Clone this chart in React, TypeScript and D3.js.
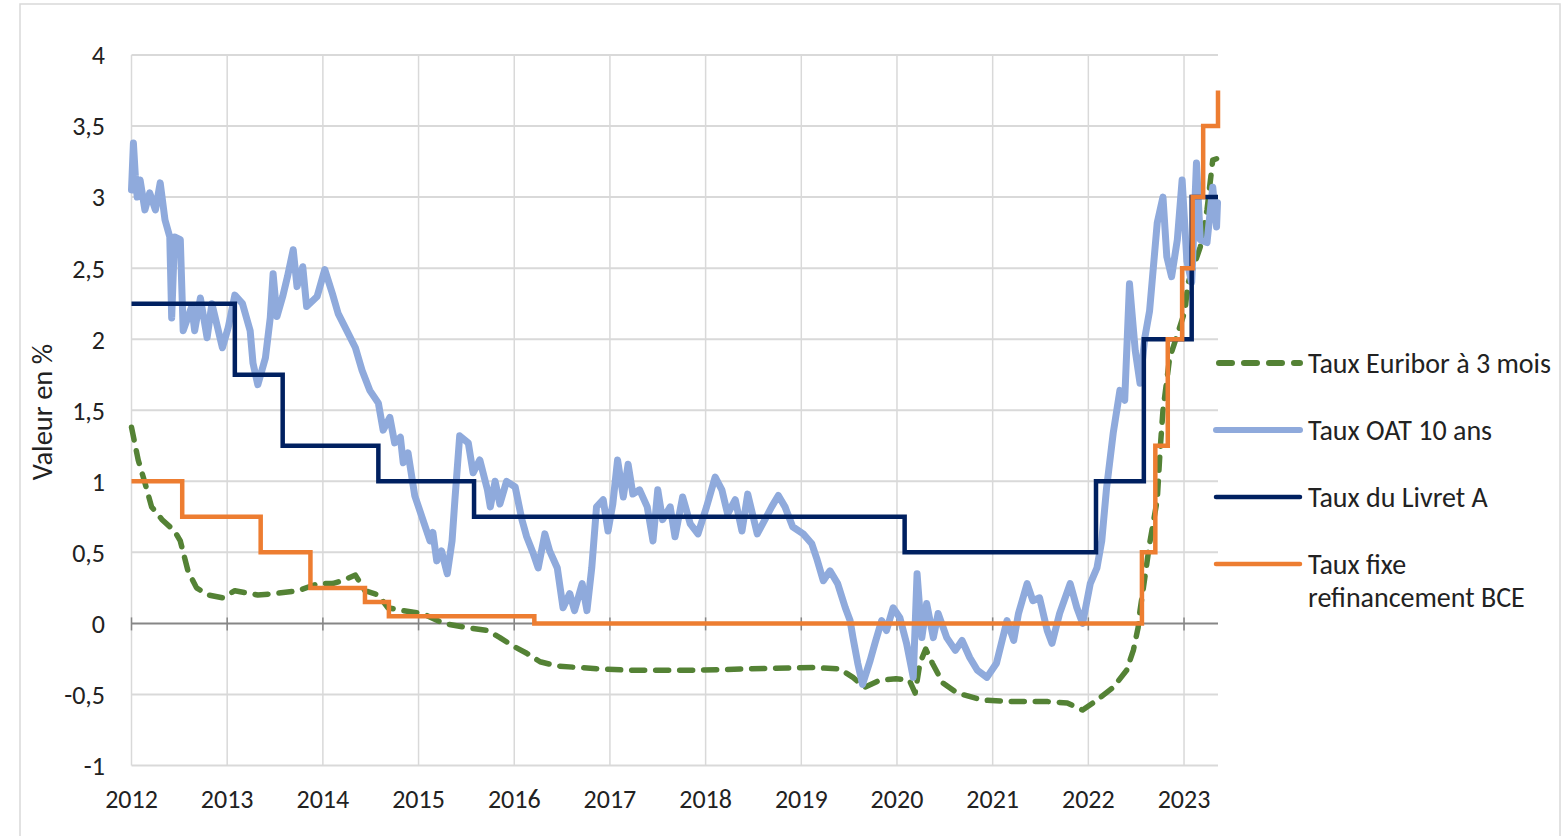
import React from "react";
import * as d3 from "d3";

const W = 1565;
const H = 836;

const yTicks = [-1, -0.5, 0, 0.5, 1, 1.5, 2, 2.5, 3, 3.5, 4];
const xYears = [2012, 2013, 2014, 2015, 2016, 2017, 2018, 2019, 2020, 2021, 2022, 2023];

const seriesNames = [
  "Taux Euribor à 3 mois",
  "Taux OAT 10 ans",
  "Taux du Livret A",
  "Taux fixe refinancement BCE",
];

const euribor: [number, number][] = [
  [2012.0, 1.38], [2012.07, 1.15], [2012.14, 0.99], [2012.21, 0.82], [2012.32, 0.73],
  [2012.45, 0.65], [2012.51, 0.58], [2012.59, 0.37], [2012.68, 0.25], [2012.8, 0.2],
  [2012.95, 0.18], [2013.08, 0.23], [2013.32, 0.2], [2013.5, 0.21], [2013.74, 0.23],
  [2013.95, 0.28], [2014.1, 0.28], [2014.2, 0.3], [2014.34, 0.34], [2014.44, 0.23],
  [2014.58, 0.2], [2014.68, 0.11], [2014.83, 0.09], [2015.04, 0.07], [2015.26, 0.0],
  [2015.51, -0.03], [2015.72, -0.05], [2015.85, -0.1], [2015.99, -0.16], [2016.13, -0.21],
  [2016.27, -0.27], [2016.45, -0.3], [2016.66, -0.31], [2016.9, -0.32], [2017.24, -0.33],
  [2017.6, -0.33], [2017.87, -0.33], [2018.43, -0.32], [2019.12, -0.31], [2019.4, -0.32],
  [2019.54, -0.38], [2019.66, -0.45], [2019.82, -0.4], [2019.99, -0.39], [2020.13, -0.4],
  [2020.19, -0.49], [2020.24, -0.28], [2020.3, -0.18], [2020.37, -0.28], [2020.48, -0.42],
  [2020.63, -0.49], [2020.84, -0.53], [2020.9, -0.54], [2021.21, -0.55], [2021.57, -0.55],
  [2021.78, -0.56], [2021.94, -0.61], [2022.09, -0.54], [2022.26, -0.45], [2022.4, -0.33],
  [2022.47, -0.19], [2022.52, -0.03], [2022.54, 0.09], [2022.59, 0.32], [2022.64, 0.56],
  [2022.72, 0.87], [2022.75, 1.22], [2022.78, 1.5], [2022.85, 1.87], [2022.9, 1.97],
  [2023.01, 2.2], [2023.04, 2.39], [2023.17, 2.65], [2023.24, 2.91], [2023.3, 3.26],
  [2023.34, 3.27],
];

const oat: [number, number][] = [
  [2012.0, 3.05], [2012.02, 3.38], [2012.04, 3.15], [2012.06, 3.0], [2012.09, 3.12],
  [2012.14, 2.91], [2012.19, 3.03], [2012.25, 2.91], [2012.3, 3.1], [2012.35, 2.84],
  [2012.4, 2.72], [2012.42, 2.15], [2012.45, 2.72], [2012.51, 2.7], [2012.54, 2.06],
  [2012.63, 2.23], [2012.66, 2.06], [2012.72, 2.29], [2012.79, 2.01], [2012.84, 2.25],
  [2012.95, 1.94], [2013.01, 2.08], [2013.08, 2.31], [2013.16, 2.25], [2013.24, 2.06],
  [2013.27, 1.83], [2013.32, 1.68], [2013.4, 1.87], [2013.45, 2.15], [2013.48, 2.46],
  [2013.52, 2.16], [2013.58, 2.3], [2013.63, 2.44], [2013.69, 2.63], [2013.73, 2.37],
  [2013.79, 2.51], [2013.83, 2.23], [2013.94, 2.3], [2014.02, 2.49], [2014.1, 2.32],
  [2014.16, 2.18], [2014.25, 2.06], [2014.34, 1.94], [2014.41, 1.78], [2014.49, 1.64],
  [2014.58, 1.55], [2014.63, 1.36], [2014.7, 1.45], [2014.75, 1.27], [2014.81, 1.31],
  [2014.84, 1.13], [2014.89, 1.2], [2014.96, 0.9], [2015.05, 0.72], [2015.12, 0.58],
  [2015.15, 0.64], [2015.19, 0.44], [2015.24, 0.51], [2015.3, 0.35], [2015.35, 0.58],
  [2015.38, 0.87], [2015.43, 1.32], [2015.52, 1.27], [2015.57, 1.06], [2015.64, 1.15],
  [2015.72, 0.94], [2015.75, 0.82], [2015.8, 1.0], [2015.85, 0.84], [2015.92, 1.0],
  [2016.01, 0.96], [2016.08, 0.73], [2016.13, 0.61], [2016.2, 0.49], [2016.25, 0.39],
  [2016.32, 0.63], [2016.37, 0.51], [2016.45, 0.39], [2016.51, 0.11], [2016.58, 0.21],
  [2016.63, 0.09], [2016.71, 0.28], [2016.76, 0.09], [2016.81, 0.39], [2016.86, 0.82],
  [2016.93, 0.87], [2016.98, 0.65], [2017.03, 0.84], [2017.08, 1.15], [2017.14, 0.89],
  [2017.19, 1.12], [2017.24, 0.91], [2017.31, 0.94], [2017.39, 0.82], [2017.45, 0.58],
  [2017.5, 0.94], [2017.55, 0.73], [2017.63, 0.82], [2017.68, 0.61], [2017.76, 0.89],
  [2017.84, 0.7], [2017.92, 0.63], [2018.01, 0.82], [2018.1, 1.03], [2018.17, 0.94],
  [2018.23, 0.77], [2018.31, 0.87], [2018.38, 0.65], [2018.44, 0.91], [2018.54, 0.63],
  [2018.62, 0.73], [2018.69, 0.82], [2018.76, 0.9], [2018.83, 0.82], [2018.91, 0.68],
  [2019.02, 0.63], [2019.11, 0.56], [2019.16, 0.46], [2019.23, 0.3], [2019.3, 0.37],
  [2019.38, 0.28], [2019.46, 0.11], [2019.51, 0.02], [2019.54, -0.1], [2019.59, -0.28],
  [2019.64, -0.43], [2019.72, -0.26], [2019.77, -0.14], [2019.84, 0.02], [2019.89, -0.05],
  [2019.96, 0.11], [2020.03, 0.04], [2020.1, -0.14], [2020.17, -0.38], [2020.21, 0.35],
  [2020.26, -0.1], [2020.31, 0.14], [2020.38, -0.1], [2020.43, 0.07], [2020.52, -0.1],
  [2020.61, -0.19], [2020.68, -0.12], [2020.76, -0.24], [2020.84, -0.33], [2020.94, -0.38],
  [2021.04, -0.28], [2021.15, 0.02], [2021.22, -0.12], [2021.27, 0.07], [2021.36, 0.28],
  [2021.42, 0.16], [2021.49, 0.18], [2021.57, -0.05], [2021.62, -0.14], [2021.7, 0.07],
  [2021.81, 0.28], [2021.88, 0.11], [2021.94, 0.0], [2022.02, 0.28], [2022.09, 0.39],
  [2022.14, 0.58], [2022.19, 0.95], [2022.26, 1.34], [2022.33, 1.64], [2022.38, 1.57],
  [2022.43, 2.39], [2022.49, 1.92], [2022.54, 1.69], [2022.59, 2.01], [2022.64, 2.2],
  [2022.72, 2.82], [2022.78, 3.0], [2022.82, 2.58], [2022.87, 2.44], [2022.93, 2.7],
  [2022.98, 3.12], [2023.03, 2.55], [2023.08, 2.4], [2023.13, 3.24], [2023.17, 2.7],
  [2023.24, 2.68], [2023.3, 3.07], [2023.34, 2.79], [2023.35, 2.96],
];

const livretA: [number, number][] = [
  [2012.0, 2.25], [2013.08, 1.75], [2013.58, 1.25], [2014.58, 1.0], [2015.58, 0.75],
  [2020.08, 0.5], [2022.08, 1.0], [2022.58, 2.0], [2023.08, 3.0], [2023.355, 3.0],
];

const bce: [number, number][] = [
  [2012.0, 1.0], [2012.53, 0.75], [2013.35, 0.5], [2013.87, 0.25], [2014.44, 0.15],
  [2014.69, 0.05], [2016.21, 0.0], [2022.56, 0.5], [2022.7, 1.25], [2022.83, 2.0],
  [2022.98, 2.5], [2023.09, 3.0], [2023.2, 3.5], [2023.355, 3.75],
];

const COLORS = {
  euribor: "#548235",
  oat: "#8faadc",
  livret: "#002060",
  bce: "#ed7d31",
  grid: "#d9d9d9",
  axis: "#868686",
  text: "#222222",
};

const FONT = "Carlito, Calibri, Lato, 'Open Sans', sans-serif";

export default function App() {
  const x = d3.scaleLinear().domain([2012, 2023.355]).range([131.5, 1218]);
  const y = d3.scaleLinear().domain([-1, 4]).range([765.5, 55]);
  const [x0, x1] = x.range();

  const line = d3
    .line<[number, number]>()
    .x((d) => x(d[0]))
    .y((d) => y(d[1]));
  const step = d3
    .line<[number, number]>()
    .x((d) => x(d[0]))
    .y((d) => y(d[1]))
    .curve(d3.curveStepAfter);

  const fmt = (t: number) => String(t).replace(".", ",");

  const legendX0 = 1216;
  const legendX1 = 1300;
  const legendTextX = 1308;
  const legendRows = [
    { name: seriesNames[0], y: 363, color: COLORS.euribor, w: 6, dash: "13 12" },
    { name: seriesNames[1], y: 430, color: COLORS.oat, w: 6, dash: undefined },
    { name: seriesNames[2], y: 497, color: COLORS.livret, w: 4.5, dash: undefined },
    { name: seriesNames[3], y: 564, color: COLORS.bce, w: 4.5, dash: undefined },
  ];

  return (
    <svg
      width={W}
      height={H}
      style={{ position: "absolute", left: 0, top: 0, background: "#fff" }}
      fontFamily={FONT}
    >
      <rect x={0} y={0} width={W} height={H} fill="#fff" />
      <rect x={20} y={4} width={1540} height={H + 10} fill="none" stroke="#d9d9d9" strokeWidth={1.5} />

      {/* horizontal grid */}
      {yTicks
        .filter((t) => t !== 0)
        .map((t) => (
          <line key={"h" + t} x1={x0} x2={x1} y1={y(t)} y2={y(t)} stroke={COLORS.grid} strokeWidth={2} />
        ))}
      {/* vertical grid */}
      {xYears.map((yr) => (
        <line key={"v" + yr} x1={x(yr)} x2={x(yr)} y1={y(4)} y2={y(-1)} stroke={COLORS.grid} strokeWidth={1.5} />
      ))}
      {/* zero axis */}
      <line x1={x0} x2={x1} y1={y(0)} y2={y(0)} stroke={COLORS.axis} strokeWidth={2} />
      {xYears.map((yr) => (
        <line key={"t" + yr} x1={x(yr)} x2={x(yr)} y1={y(0) - 6} y2={y(0) + 7} stroke={COLORS.axis} strokeWidth={1.5} />
      ))}

      {/* y tick labels */}
      {yTicks.map((t) => (
        <text key={"yl" + t} x={105} y={y(t)} dy="0.36em" textAnchor="end" fontSize={26} fill={COLORS.text}>
          {fmt(t)}
        </text>
      ))}
      {/* x tick labels */}
      {xYears.map((yr) => (
        <text key={"xl" + yr} x={x(yr)} y={808} textAnchor="middle" fontSize={26} fill={COLORS.text}>
          {yr}
        </text>
      ))}
      {/* y axis title */}
      <text
        transform={`translate(52, 412) rotate(-90)`}
        textAnchor="middle"
        fontSize={28.5}
        fill={COLORS.text}
      >
        Valeur en %
      </text>

      {/* series */}
      <path
        d={line(euribor) || ""}
        fill="none"
        stroke={COLORS.euribor}
        strokeWidth={5.5}
        strokeDasharray="13 11"
        strokeLinecap="round"
        strokeLinejoin="round"
      />
      <path d={line(oat) || ""} fill="none" stroke={COLORS.oat} strokeWidth={7} strokeLinejoin="round" strokeLinecap="round" />
      <path d={step(livretA) || ""} fill="none" stroke={COLORS.livret} strokeWidth={4.5} />
      <path d={step(bce) || ""} fill="none" stroke={COLORS.bce} strokeWidth={4.5} />

      {/* legend */}
      {legendRows.map((r, i) => (
        <g key={"lg" + i}>
          <line
            x1={legendX0 + (r.dash ? 3 : 0)}
            x2={legendX1}
            y1={r.y}
            y2={r.y}
            stroke={r.color}
            strokeWidth={r.w}
            strokeDasharray={r.dash}
            strokeLinecap="round"
          />
          {i < 3 ? (
            <text x={legendTextX} y={r.y} dy="0.36em" fontSize={28} fill={COLORS.text}>
              {r.name}
            </text>
          ) : (
            <text x={legendTextX} y={r.y} dy="0.36em" fontSize={28} fill={COLORS.text}>
              <tspan x={legendTextX}>Taux fixe</tspan>
              <tspan x={legendTextX} dy={33}>refinancement BCE</tspan>
            </text>
          )}
        </g>
      ))}
    </svg>
  );
}
